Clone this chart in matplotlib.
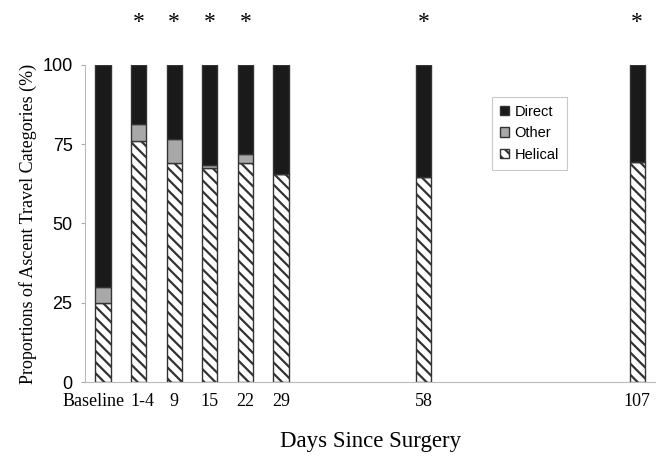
import matplotlib
matplotlib.use("Agg")
from matplotlib import pyplot as plt
from matplotlib.patches import Patch
from matplotlib.transforms import ScaledTranslation

# categories and their slot positions on the category axis
days = ['Baseline', '1-4', '9', '15', '22', '29', '58', '107']
slots = [0, 1, 2, 3, 4, 5, 9, 15]

# proportions (%)
helical = [25, 76, 69, 67.5, 69, 65.5, 64.5, 69.5]
other = [5, 5.5, 7.5, 1, 3, 0, 0, 0]
direct = [100 - h - o for h, o in zip(helical, other)]

# significant differences from baseline
starred = ['1-4', '9', '15', '22', '58', '107']

plt.rcParams['hatch.linewidth'] = 1.6
plt.rcParams['hatch.color'] = '#555555'

fig = plt.figure(figsize=(6.65, 4.57), dpi=100)
ax = fig.add_axes([0.128, 0.164, 0.857, 0.694])

w = 0.43
edge = '#333333'
ax.bar(slots, helical, w, color='white', edgecolor=edge, linewidth=1, hatch='\\\\\\')
ax.bar(slots, other, w, bottom=helical, color='#a8a8a8', edgecolor=edge, linewidth=1)
bot2 = [h + o for h, o in zip(helical, other)]
ax.bar(slots, direct, w, bottom=bot2, color='#1a1a1a', edgecolor=edge, linewidth=1)

for d, s in zip(days, slots):
    if d in starred:
        ax.text(s, 113.5, '*', ha='center', va='center', fontsize=17,
                family='Liberation Serif', clip_on=False)

ax.set_xlim(-0.5, 15.5)
ax.set_ylim(0, 100)
ax.set_yticks([0, 25, 50, 75, 100])
ax.set_yticklabels(['0', '25', '50', '75', '100'], family='Liberation Sans', fontsize=13)
ax.set_xticks(slots)
ax.set_xticklabels(days, family='Liberation Serif', fontsize=13)
ax.tick_params(axis='x', length=0, pad=8)
ax.tick_params(axis='y', length=3, color='#aaaaaa', pad=6)

# Baseline label sits a bit to the left, as in the original
lab = ax.get_xticklabels()[0]
lab.set_transform(lab.get_transform() + ScaledTranslation(-9 / 100, 0, fig.dpi_scale_trans))
lab2 = ax.get_xticklabels()[1]
lab2.set_transform(lab2.get_transform() + ScaledTranslation(4 / 100, 0, fig.dpi_scale_trans))

for sp in ['top', 'right']:
    ax.spines[sp].set_visible(False)
for sp in ['left', 'bottom']:
    ax.spines[sp].set_color('#bbbbbb')
    ax.spines[sp].set_linewidth(0.8)

ax.set_ylabel('Proportions of Ascent Travel Categories (%)', family='Liberation Serif',
              fontsize=13, labelpad=4)
ax.set_xlabel('Days Since Surgery', family='Liberation Serif', fontsize=16.5, labelpad=15)

handles = [Patch(facecolor='#1a1a1a', edgecolor=edge, label='Direct'),
           Patch(facecolor='#a8a8a8', edgecolor=edge, label='Other'),
           Patch(facecolor='white', edgecolor=edge, hatch='\\\\\\', label='Helical')]
leg = ax.legend(handles=handles, loc='upper left', bbox_to_anchor=(0.714, 0.899),
                borderaxespad=0, handlelength=0.6, handleheight=0.6, handletextpad=0.4,
                labelspacing=0.5, fancybox=False, edgecolor='#bbbbbb',
                prop={'family': 'Liberation Sans', 'size': 10.5}, borderpad=0.55)
leg.get_frame().set_linewidth(0.8)

fig.savefig('out.png', dpi=100)
